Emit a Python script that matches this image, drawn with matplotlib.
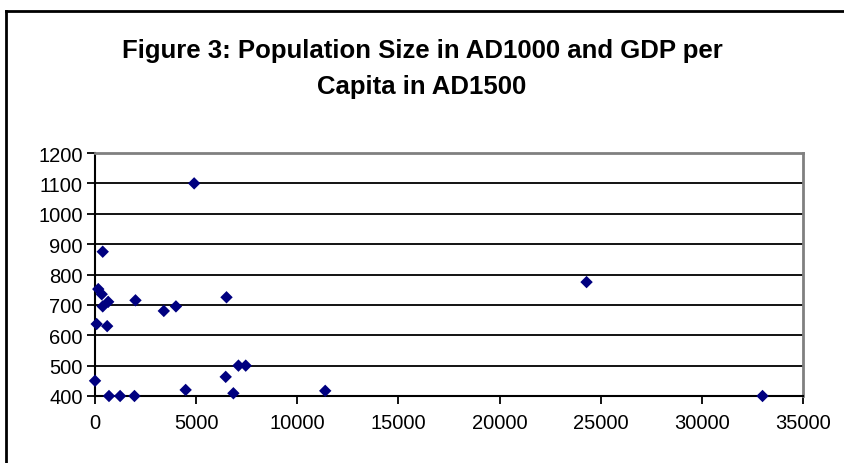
import matplotlib
matplotlib.use('agg')
import matplotlib.pyplot as plt
from matplotlib.lines import Line2D

# population in AD1000 vs GDP per capita in AD1500
population = [4900, 380, 160, 330, 650, 380, 2000, 3400, 4000, 6500,
              80, 600, 0, 690, 1240, 1950, 4480, 6460, 6840, 7090,
              7450, 11380, 24300, 33000]
gdp_pc = [1100, 875, 752, 735, 710, 695, 715, 680, 695, 725,
          637, 630, 450, 400, 400, 400, 420, 463, 409, 500,
          500, 417, 775, 400]

title = 'Figure 3: Population Size in AD1000 and GDP per\nCapita in AD1500'

plt.rcParams['font.family'] = ['Liberation Sans', 'DejaVu Sans']

fig = plt.figure(figsize=(8.44, 4.64), dpi=100)
ax = fig.add_axes([0.1126, 0.1444, 0.8388, 0.5237])

ax.scatter(population, gdp_pc, marker='D', s=40, color='#000080',
           edgecolors='none', zorder=3, clip_on=False)

ax.set_xlim(0, 35000)
ax.set_ylim(400, 1200)
ax.set_xticks(range(0, 35001, 5000))
ax.set_yticks(range(400, 1201, 100))
ax.yaxis.grid(True, color='black', linewidth=1.3)
ax.set_axisbelow(True)
ax.tick_params(axis='both', labelsize=14.5, direction='out', length=6,
               width=1.3, color='black', labelcolor='black')
ax.tick_params(axis='x', pad=6)
ax.tick_params(axis='y', pad=3)

for side in ['left', 'bottom']:
    ax.spines[side].set_color('black')
    ax.spines[side].set_linewidth(1.5)
for side in ['top', 'right']:
    ax.spines[side].set_color('#808080')
    ax.spines[side].set_linewidth(2)

fig.text(0.5, 0.851, title, ha='center', va='center', fontsize=18.5,
         fontweight='bold', linespacing=1.62)

# chart area border (right/bottom edges cropped off in the original)
fig.add_artist(Line2D([0.0071, 0.0071], [0, 0.974], color='black',
                      linewidth=2, transform=fig.transFigure))
fig.add_artist(Line2D([0.0071, 1], [0.974, 0.974], color='black',
                      linewidth=2, transform=fig.transFigure))

fig.savefig('out.png', dpi=100)
